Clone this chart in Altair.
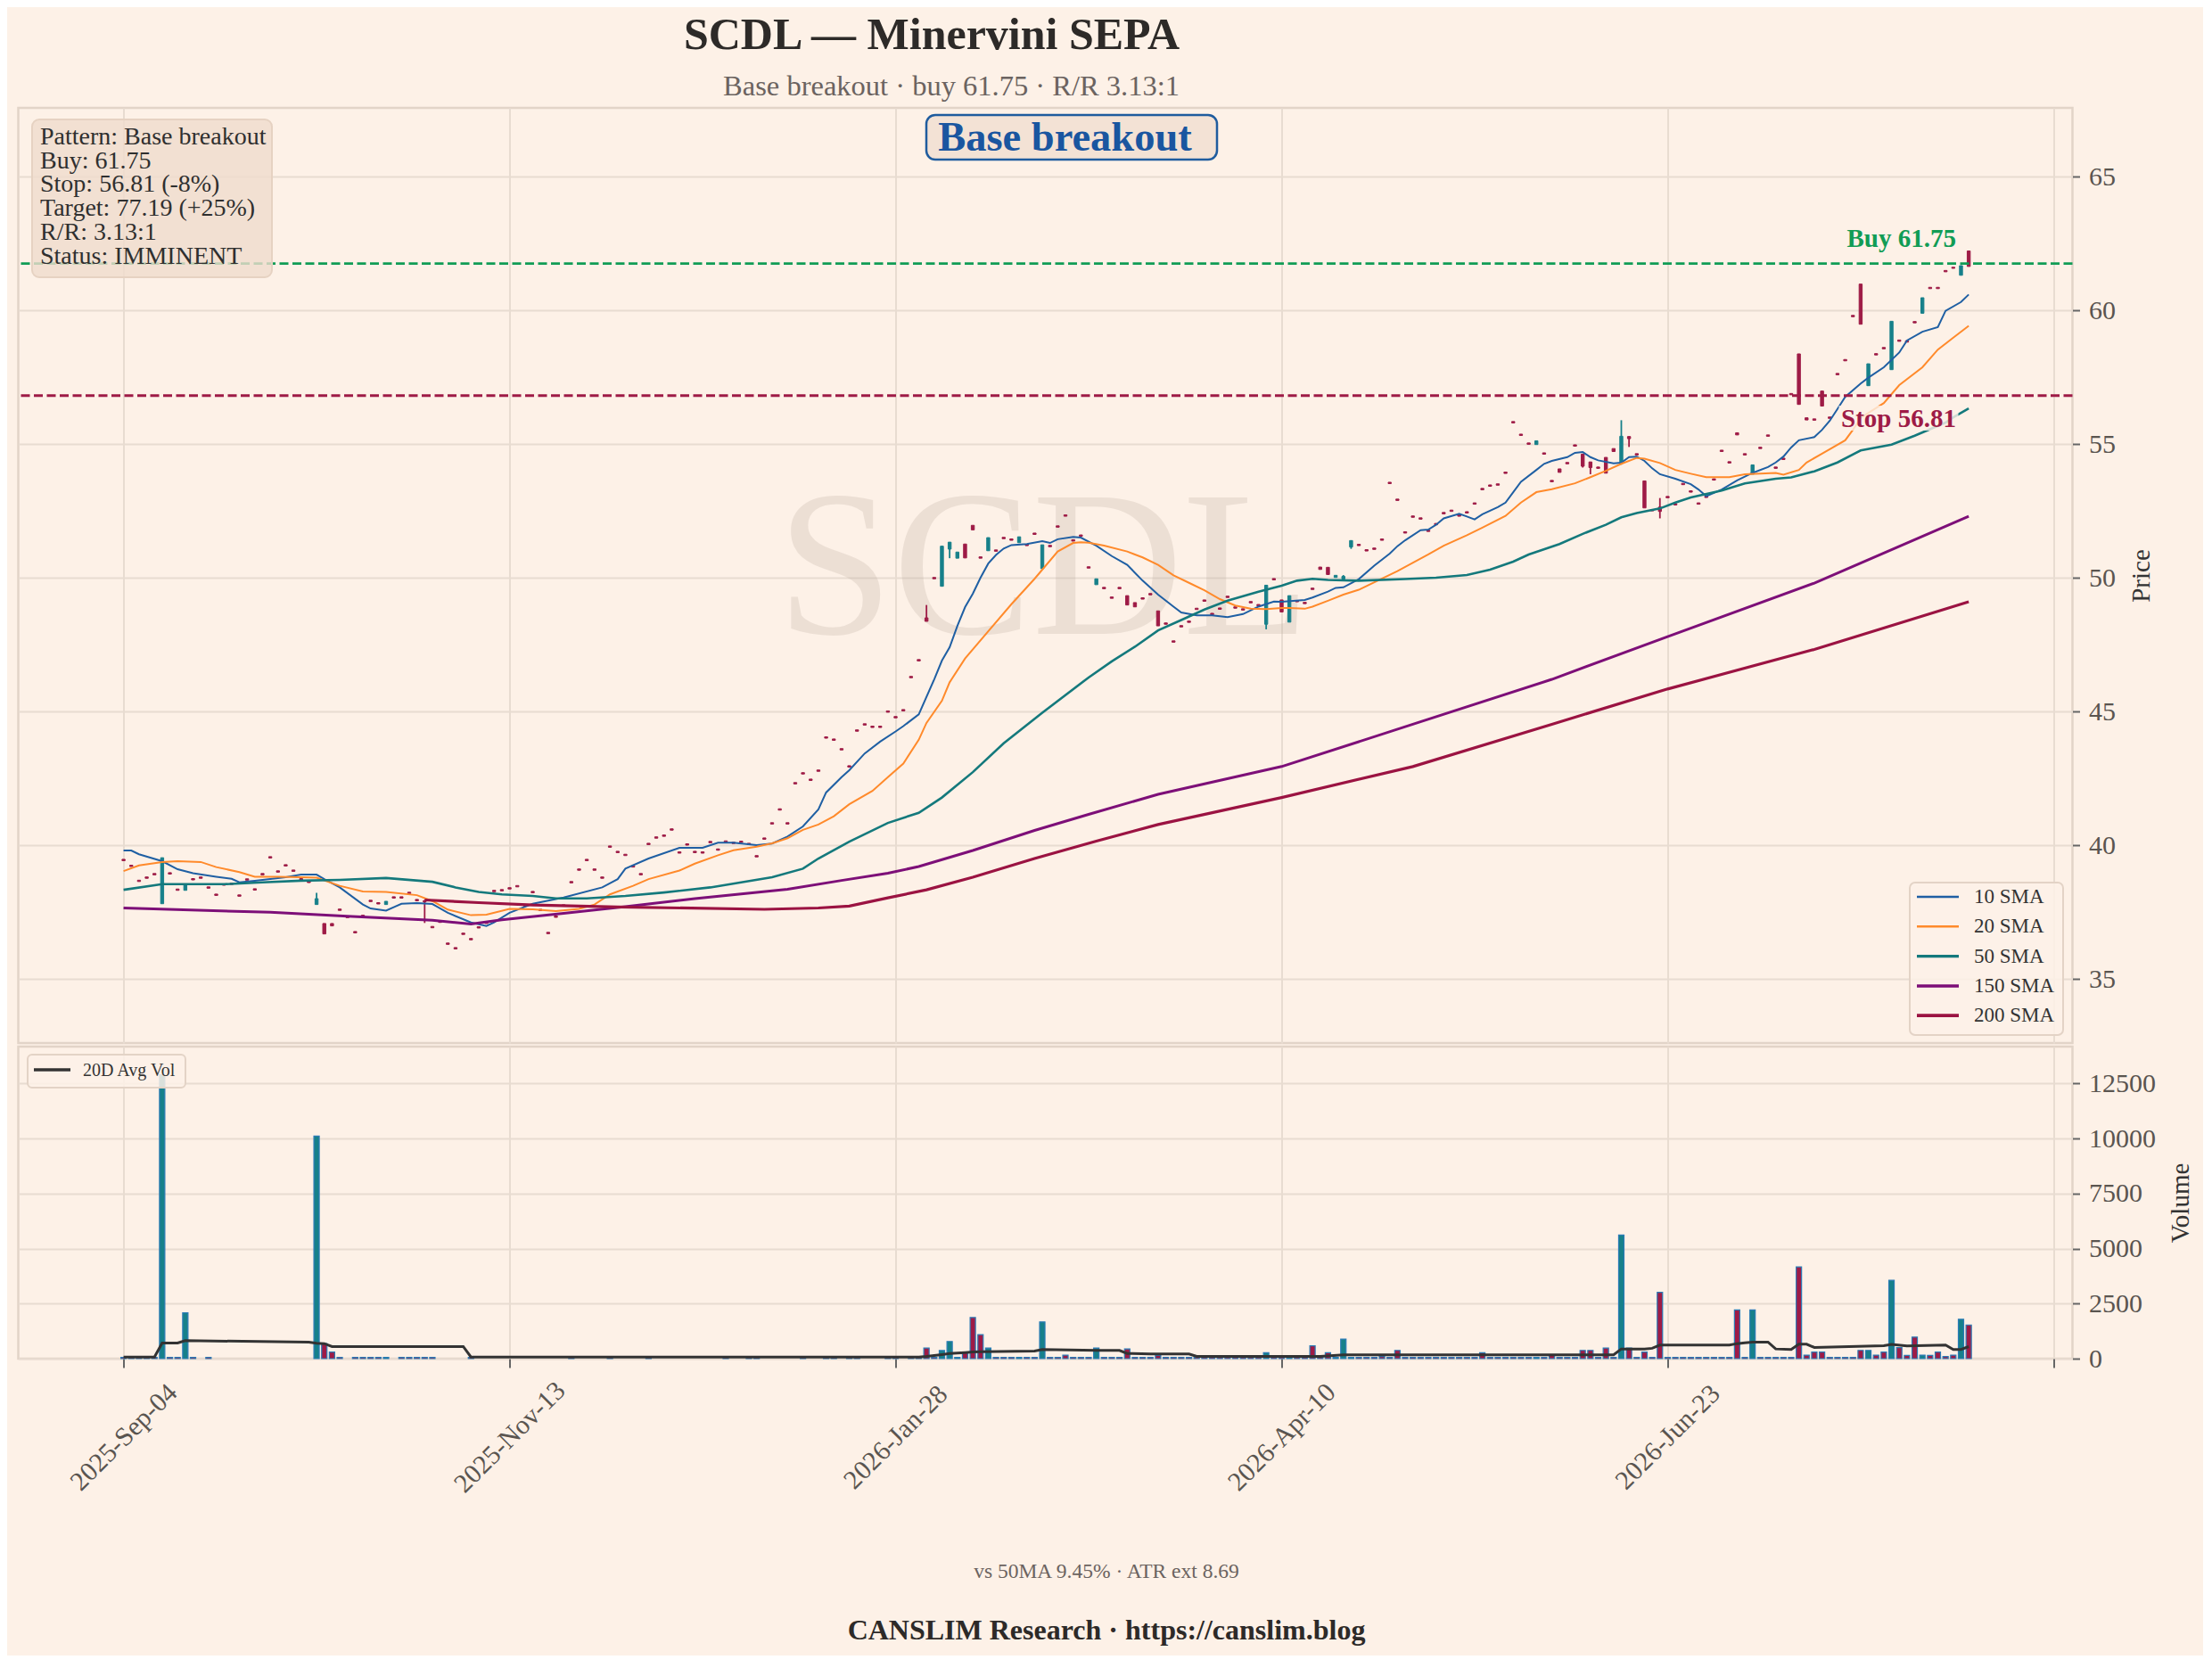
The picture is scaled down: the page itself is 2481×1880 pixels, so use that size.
import altair as alt
import pandas as pd

FONT = "Liberation Serif"
BG = "#fdf1e7"
UP = "#17808a"
DOWN = "#9e1b46"
GREEN = "#119c55"
STOPC = "#9e1b46"
GRID = "#e8dcd1"

TICKER = "SCDL"
TITLE = "SCDL — Minervini SEPA"
SUBTITLE = "Base breakout · buy 61.75 · R/R 3.13:1"
PATTERN = "Base breakout"
INFO_LINES = ["Pattern: Base breakout", "Buy: 61.75", "Stop: 56.81 (-8%)",
              "Target: 77.19 (+25%)", "R/R: 3.13:1", "Status: IMMINENT"]
FOOT1 = "vs 50MA 9.45% · ATR ext 8.69"
FOOT2 = "CANSLIM Research  ·  https://canslim.blog"
BUY = 61.75
STOP = 56.81
TICK_POS = [0, 50, 100, 150, 200, 250]
TICK_LABELS = ["2025-Sep-04", "2025-Nov-13", "2026-Jan-28", "2026-Apr-10", "2026-Jun-23", ""]
PRICE_TICKS = [35, 40, 45, 50, 55, 60, 65]
VOL_TICKS = [0, 2500, 5000, 7500, 10000, 12500]

opens = [
    39.47, 39.25, 38.69, 38.81, 38.94, 37.81, 38.97, 38.36, 38.31, 38.75,
    38.81, 38.44, 38.17, 38.55, 38.58, 38.14, 38.74, 38.37, 38.94, 39.57,
    39.04, 39.27, 39.07, 38.75, 38.65, 37.78, 37.07, 37.07, 37.61, 37.34,
    36.77, 37.38, 37.94, 37.85, 37.78, 38.07, 38.07, 38.24, 37.97, 37.92,
    36.96, 37.16, 36.34, 36.17, 36.71, 36.51, 36.95, 37.12, 38.31, 38.34,
    38.41, 38.49, 37.77, 38.27, 37.60, 36.74, 37.35, 37.77, 38.64, 39.11,
    39.47, 39.11, 38.81, 39.97, 39.77, 39.66, 39.23, 38.94, 40.07, 40.31,
    40.38, 40.61, 39.75, 40.05, 39.77, 39.75, 40.14, 39.86, 40.16, 40.11,
    40.15, 40.07, 39.61, 40.27, 40.84, 41.36, 40.84, 42.34, 42.71, 42.47,
    42.81, 44.05, 43.97, 43.61, 42.97, 44.31, 44.54, 44.45, 44.45, 45.02,
    44.81, 45.07, 46.31, 46.94, 48.50, 50.01, 49.68, 51.07, 50.73, 51.26,
    51.96, 50.78, 51.01, 51.04, 51.51, 51.45, 51.31, 51.25, 51.67, 50.34,
    51.21, 51.94, 52.35, 51.42, 51.60, 50.41, 49.74, 49.64, 49.28, 49.64,
    49.33, 49.07, 49.25, 49.41, 48.76, 48.31, 47.64, 48.21, 48.38, 48.86,
    49.17, 48.67, 48.87, 49.31, 48.91, 48.84, 49.11, 49.00, 48.26, 49.97,
    49.17, 48.34, 49.15, 49.08, 49.61, 50.40, 50.39, 50.01, 49.95, 51.15,
    51.25, 51.05, 51.11, 51.45, 53.57, 52.94, 51.72, 52.31, 52.24, 51.78,
    52.03, 52.44, 52.53, 52.35, 52.47, 52.80, 53.34, 53.47, 53.51, 53.95,
    55.84, 55.37, 55.04, 54.98, 54.67, 53.64, 54.07, 54.31, 54.97, 54.62,
    54.33, 54.14, 54.50, 54.83, 54.31, 55.28, 54.64, 53.62, 52.55, 52.64,
    53.04, 52.77, 53.53, 53.25, 52.80, 53.05, 53.70, 54.77, 54.34, 55.42,
    54.64, 53.87, 54.88, 55.34, 54.14, 54.47, 56.89, 58.37, 55.98, 55.94,
    56.98, 56.01, 57.64, 58.16, 59.81, 60.98, 57.18, 58.38, 58.61, 57.78,
    58.89, 58.86, 59.58, 59.89, 60.86, 60.86, 61.49, 61.61, 61.31, 62.22,
]
closes = [
    39.42, 39.20, 38.64, 38.76, 38.89, 39.53, 38.92, 38.31, 38.55, 38.70,
    38.76, 38.39, 38.12, 38.50, 38.53, 38.09, 38.69, 38.32, 38.89, 39.52,
    38.99, 39.22, 39.02, 38.70, 38.60, 38.00, 36.68, 36.98, 37.56, 37.29,
    36.72, 37.33, 37.89, 37.80, 37.90, 38.02, 38.02, 38.19, 37.92, 37.88,
    36.91, 37.11, 36.29, 36.12, 36.66, 36.46, 36.90, 37.07, 38.26, 38.29,
    38.36, 38.44, 37.72, 38.22, 37.55, 36.69, 37.30, 37.72, 38.59, 39.06,
    39.42, 39.06, 38.76, 39.92, 39.72, 39.61, 39.18, 38.89, 40.02, 40.26,
    40.33, 40.56, 39.70, 40.00, 39.72, 39.70, 40.09, 39.81, 40.11, 40.06,
    40.10, 40.02, 39.56, 40.22, 40.79, 41.31, 40.79, 42.29, 42.66, 42.42,
    42.76, 44.00, 43.92, 43.56, 42.92, 44.26, 44.49, 44.40, 44.40, 44.97,
    44.76, 45.02, 46.26, 46.89, 48.37, 49.96, 51.18, 51.33, 50.96, 50.74,
    51.79, 50.73, 51.50, 50.99, 51.46, 51.40, 51.53, 51.20, 51.62, 51.23,
    51.16, 51.89, 52.30, 51.37, 51.55, 50.36, 49.96, 49.59, 49.23, 49.59,
    48.98, 48.91, 49.20, 49.36, 48.20, 48.26, 47.59, 48.16, 48.33, 48.81,
    49.12, 48.62, 48.82, 49.26, 48.86, 48.79, 49.06, 48.95, 49.72, 49.92,
    48.72, 49.33, 49.10, 49.03, 49.56, 50.31, 50.12, 50.09, 50.05, 51.39,
    51.20, 51.00, 51.06, 51.40, 53.52, 52.89, 51.67, 52.26, 52.19, 51.73,
    51.98, 52.39, 52.48, 52.30, 52.42, 52.75, 53.29, 53.42, 53.46, 53.90,
    55.79, 55.32, 54.99, 55.12, 54.62, 53.59, 53.94, 54.26, 54.92, 54.17,
    54.12, 54.09, 53.91, 54.72, 55.29, 55.20, 54.59, 52.61, 52.50, 52.48,
    52.99, 52.72, 53.48, 53.20, 52.75, 53.00, 53.65, 54.72, 54.29, 55.34,
    54.59, 54.22, 54.83, 55.29, 54.09, 54.42, 56.84, 56.48, 55.90, 55.89,
    56.42, 55.96, 57.59, 58.11, 59.76, 59.48, 58.00, 58.33, 58.56, 59.59,
    58.84, 58.81, 59.53, 60.47, 60.81, 60.81, 61.44, 61.57, 61.67, 61.64,
]
wick_idx = [25, 39, 104, 107, 148, 158, 159, 189, 190, 194, 195, 199]
wick_hi = [38.22, 37.95, 48.98, 51.33, 49.72, 50.10, 51.39, 54.62, 54.33, 55.89, 55.28, 52.98]
wick_lo = [37.78, 37.09, 48.37, 50.73, 48.07, 49.90, 51.08, 54.12, 53.87, 54.23, 54.89, 52.22]

volumes = [
    60, 60, 60, 60, 60, 12900, 60, 60, 2080, 60,
    0, 60, 0, 0, 0, 0, 0, 0, 0, 0,
    0, 0, 0, 0, 0, 10110, 680, 300, 60, 0,
    60, 60, 60, 60, 60, 0, 60, 60, 60, 60,
    60, 0, 0, 0, 0, 60, 0, 0, 0, 0,
    0, 0, 0, 0, 0, 0, 0, 0, 60, 0,
    0, 0, 0, 60, 0, 0, 0, 0, 60, 0,
    0, 0, 0, 0, 0, 0, 0, 0, 60, 0,
    0, 60, 60, 0, 0, 0, 0, 0, 60, 0,
    0, 60, 60, 0, 60, 60, 0, 0, 0, 60,
    60, 0, 60, 60, 480, 60, 370, 780, 60, 300,
    1870, 1090, 480, 60, 60, 60, 60, 60, 60, 1670,
    60, 60, 160, 60, 60, 60, 480, 60, 60, 60,
    440, 60, 60, 60, 150, 60, 60, 60, 60, 60,
    60, 60, 60, 60, 60, 60, 60, 60, 270, 60,
    60, 60, 60, 60, 580, 60, 270, 60, 890, 60,
    60, 60, 60, 100, 60, 375, 60, 60, 60, 60,
    60, 60, 60, 60, 60, 60, 270, 60, 60, 60,
    60, 60, 60, 60, 60, 160, 60, 60, 60, 375,
    375, 60, 480, 60, 5620, 480, 60, 300, 60, 3010,
    60, 60, 60, 60, 60, 60, 60, 60, 60, 2210,
    60, 2210, 60, 60, 60, 60, 60, 4170, 160, 300,
    300, 60, 60, 60, 60, 375, 375, 160, 300, 3560,
    500, 150, 980, 160, 150, 300, 100, 160, 1790, 1530,
]
avg_idx = [0, 4, 5, 7, 8, 24, 25, 26, 27, 44,
           45, 103, 104, 106, 107, 109, 110, 111, 118, 119,
           126, 129, 130, 133, 138, 139, 155, 158, 193, 194,
           197, 198, 199, 208, 209, 210, 211, 213, 214, 216,
           217, 218, 219, 228, 229, 231, 236, 237, 238, 239]
avg_val = [75, 75, 710, 710, 818, 751, 700, 683, 548, 548,
           75, 75, 102, 183, 230, 277, 300, 318, 345, 413,
           372, 372, 237, 210, 210, 102, 102, 170, 170, 440,
           440, 470, 616, 616, 683, 720, 751, 751, 440, 413,
           656, 656, 507, 590, 643, 575, 616, 413, 420, 548]

sma10_idx = [0, 1, 2, 5, 7, 9, 12, 14, 15, 17, 21, 23, 25, 26, 28, 31, 32, 34, 36, 38,
             40, 42, 45, 47, 48, 50, 53, 57, 62, 64, 65, 68, 72, 75, 77, 79, 82, 84, 86, 88,
             90, 91, 93, 94, 96, 98, 100, 101, 103, 105, 106, 107, 108, 109, 110, 111, 112, 113, 114, 115,
             117, 119, 120, 121, 123, 124, 126, 128, 130, 132, 134, 136, 137, 139, 141, 143, 145, 147, 149, 150,
             153, 154, 156, 157, 158, 160, 162, 164, 165, 166, 168, 169, 170, 171, 173, 174, 175, 176, 178, 179,
             180, 181, 183, 184, 185, 187, 188, 189, 190, 191, 193, 194, 195, 196, 197, 198, 199, 201, 203, 204,
             205, 207, 209, 211, 213, 214, 215, 216, 217, 219, 220, 221, 222, 223, 225, 226, 228, 230, 231, 233,
             235, 236, 238, 239]
sma10_val = [39.80, 39.80, 39.66, 39.40, 39.10, 38.95, 38.82, 38.74, 38.61, 38.67, 38.80, 38.90, 38.90, 38.73, 38.42, 37.78, 37.63, 37.55, 37.81, 37.83,
             37.80, 37.47, 37.11, 36.98, 37.11, 37.47, 37.81, 38.04, 38.42, 38.73, 39.12, 39.50, 39.90, 39.90, 40.09, 40.09, 40.00, 40.06, 40.32, 40.70,
             41.34, 41.97, 42.54, 42.80, 43.43, 43.87, 44.25, 44.45, 44.89, 46.20, 46.90, 47.40, 48.20, 48.90, 49.40, 50.00, 50.53, 50.85, 51.09, 51.22,
             51.26, 51.37, 51.30, 51.44, 51.53, 51.50, 51.20, 50.81, 50.48, 49.89, 49.37, 48.92, 48.70, 48.59, 48.59, 48.53, 48.64, 48.92, 49.11, 49.10,
             49.17, 49.26, 49.48, 49.62, 49.64, 49.95, 50.45, 50.90, 51.18, 51.40, 51.78, 51.80, 51.98, 52.22, 52.39, 52.29, 52.18, 52.37, 52.64, 52.81,
             53.20, 53.59, 54.03, 54.26, 54.37, 54.51, 54.67, 54.70, 54.51, 54.39, 54.28, 54.30, 54.51, 54.53, 54.37, 54.09, 53.87, 53.70, 53.50, 53.30,
             53.05, 53.30, 53.64, 53.92, 54.14, 54.31, 54.53, 54.87, 55.14, 55.26, 55.53, 55.87, 56.31, 56.76, 57.26, 57.48, 57.87, 58.42, 58.87, 59.20,
             59.37, 59.98, 60.31, 60.59]
sma20_idx = [0, 2, 5, 7, 10, 12, 15, 17, 20, 23, 25, 28, 31, 34, 38, 40, 42, 45, 47, 50,
             53, 56, 59, 61, 63, 66, 68, 72, 74, 77, 79, 82, 84, 86, 88, 90, 92, 94, 97, 99,
             101, 103, 104, 106, 107, 109, 112, 115, 118, 121, 123, 124, 125, 127, 130, 132, 134, 136, 138, 140,
             142, 144, 146, 148, 150, 151, 153, 154, 156, 158, 160, 165, 169, 171, 174, 176, 179, 181, 183, 185,
             188, 190, 192, 194, 196, 197, 199, 201, 203, 205, 208, 210, 214, 215, 217, 218, 220, 223, 224, 225,
             228, 230, 233, 235, 237, 239]
sma20_val = [39.03, 39.24, 39.37, 39.40, 39.37, 39.18, 38.99, 38.82, 38.82, 38.80, 38.78, 38.48, 38.27, 38.25, 38.13, 37.91, 37.59, 37.38, 37.40, 37.62,
             37.60, 37.53, 37.62, 37.78, 38.16, 38.48, 38.73, 39.05, 39.31, 39.62, 39.81, 39.94, 40.07, 40.26, 40.57, 40.77, 41.08, 41.53, 42.03, 42.54,
             43.05, 43.94, 44.57, 45.40, 46.09, 46.98, 48.00, 49.01, 49.96, 50.98, 51.30, 51.33, 51.31, 51.20, 50.98, 50.76, 50.48, 50.09, 49.81, 49.53,
             49.20, 48.96, 48.84, 48.83, 48.87, 48.87, 48.84, 48.92, 49.14, 49.37, 49.55, 50.25, 50.87, 51.20, 51.59, 51.87, 52.31, 52.81, 53.20, 53.31,
             53.53, 53.76, 54.00, 54.26, 54.48, 54.45, 54.29, 54.03, 53.89, 53.76, 53.76, 53.87, 53.92, 53.85, 54.03, 54.31, 54.64, 55.14, 55.53, 55.98,
             56.53, 57.20, 57.87, 58.53, 58.98, 59.42]
sma50_idx = [0, 5, 10, 13, 18, 23, 28, 34, 40, 43, 46, 49, 53, 56, 60, 65, 70, 76, 80, 84,
             88, 90, 94, 99, 103, 106, 110, 114, 119, 125, 128, 131, 134, 137, 140, 143, 147, 150, 152, 154,
             156, 160, 166, 170, 174, 177, 180, 182, 186, 189, 192, 194, 196, 199, 201, 203, 207, 210, 214, 216,
             219, 222, 225, 229, 232, 236, 237, 239]
sma50_val = [38.33, 38.54, 38.54, 38.54, 38.61, 38.67, 38.70, 38.77, 38.63, 38.42, 38.25, 38.16, 38.10, 38.01, 38.01, 38.10, 38.23, 38.42, 38.61, 38.80,
             39.12, 39.50, 40.13, 40.83, 41.21, 41.78, 42.73, 43.81, 44.95, 46.27, 46.87, 47.42, 48.03, 48.42, 48.81, 49.14, 49.48, 49.70, 49.89, 49.96,
             49.92, 49.89, 49.95, 50.00, 50.10, 50.30, 50.60, 50.87, 51.26, 51.64, 51.98, 52.26, 52.42, 52.59, 52.81, 53.00, 53.26, 53.53, 53.70, 53.75,
             53.98, 54.31, 54.76, 54.98, 55.31, 55.80, 56.00, 56.33]
sma150_idx = [0, 19, 29, 40, 45, 49, 57, 65, 74, 86, 93, 99, 103, 110, 118, 125, 134, 150, 167, 185, 200, 219, 239]
sma150_val = [37.65, 37.49, 37.34, 37.19, 37.05, 37.21, 37.45, 37.70, 38.00, 38.35, 38.68, 38.95, 39.20, 39.80, 40.55, 41.15, 41.90, 42.94, 44.52, 46.20, 47.80, 49.80, 52.30]
sma200_idx = [39, 46, 53, 64, 83, 90, 94, 99, 104, 110, 118, 126, 134, 150, 167, 185, 200, 219, 239]
sma200_val = [37.95, 37.85, 37.76, 37.69, 37.60, 37.65, 37.72, 38.03, 38.33, 38.80, 39.50, 40.15, 40.77, 41.78, 42.94, 44.52, 45.84, 47.32, 49.10]

SMA = {
    "10 SMA": (sma10_idx, sma10_val),
    "20 SMA": (sma20_idx, sma20_val),
    "50 SMA": (sma50_idx, sma50_val),
    "150 SMA": (sma150_idx, sma150_val),
    "200 SMA": (sma200_idx, sma200_val),
}
SMA_STYLE = {
    "10 SMA": ("#1f5fa3", 2.0),
    "20 SMA": ("#ff8a2b", 2.0),
    "50 SMA": ("#14797c", 2.6),
    "150 SMA": ("#7d0f78", 3.0),
    "200 SMA": ("#9b1342", 3.2),
}

# ---------------- layout constants ----------------
W = 2304
H_HEAD = 111
H_PRICE = 1049
H_VOL = 350

N = len(closes)
cdf = pd.DataFrame({"idx": list(range(N)), "open": opens, "close": closes})
cdf["col"] = [UP if c >= o else DOWN for o, c in zip(opens, closes)]
wdf = pd.DataFrame({"idx": wick_idx, "hi": wick_hi, "lo": wick_lo})
wdf["col"] = [cdf["col"][i] for i in wick_idx]
vdf = pd.DataFrame({"idx": list(range(N)), "vol": volumes, "col": cdf["col"]})
adf = pd.DataFrame({"idx": avg_idx, "val": avg_val})
one = pd.DataFrame({"a": [0]})

xs = alt.Scale(domain=[-13.06, 251.86], nice=False, zero=False)
ps = alt.Scale(domain=[32.6, 67.57], nice=False, zero=False)
vs = alt.Scale(domain=[0, 14180], nice=False, zero=False)

expr = "''"
for v, t in zip(reversed(TICK_POS), reversed(TICK_LABELS)):
    expr = f"datum.value == {v} ? '{t}' : ({expr})"

px_axis = alt.Axis(values=TICK_POS, labels=False, ticks=False, domain=False, title=None, grid=True)
py_axis = alt.Axis(orient="right", values=PRICE_TICKS, title="Price", titleX=77, titleY=H_PRICE / 2,
                   titleAngle=270, titleAlign="center", titleBaseline="middle",
                   tickSize=8, labelPadding=10, grid=True, domain=False)
vx_axis = alt.Axis(values=TICK_POS, labelExpr=expr, labelAngle=315, labelAlign="center",
                   labelBaseline="middle", labelPadding=78, tickSize=10, grid=True, title=None,
                   labelFlush=False, labelOverlap=False, domain=False)
vy_axis = alt.Axis(orient="right", values=VOL_TICKS, format="d", title="Volume", titleX=121,
                   titleY=H_VOL / 2, titleAngle=270, titleAlign="center", titleBaseline="middle",
                   tickSize=8, labelPadding=10, grid=True, domain=False)

xe = alt.X("idx:Q", scale=xs, axis=px_axis)


def ptxt(text, x, y, size, color, weight="normal", align="left", baseline="alphabetic", opacity=1.0):
    return alt.Chart(one).mark_text(
        text=text, font=FONT, fontSize=size, fontWeight=weight, color=color,
        align=align, baseline=baseline, opacity=opacity
    ).encode(x=alt.value(x), y=alt.value(y))


def prect(x1, x2, y1, y2, **kw):
    return alt.Chart(one).mark_rect(**kw).encode(
        x=alt.value(x1), x2=alt.value(x2), y=alt.value(y1), y2=alt.value(y2))


# ---------------- header ----------------
header = alt.layer(
    ptxt(TITLE, 1024.5, 47, 50, "#2d2a28", weight="bold", align="center"),
    ptxt(SUBTITLE, 1046.5, 99, 32.5, "#6b6360", align="center"),
).properties(width=W, height=H_HEAD, view=alt.ViewBackground(strokeOpacity=0))

# ---------------- price panel ----------------
watermark = ptxt(TICKER, 1150, 590, 234, "#b4a396", align="center", opacity=0.22)

wicks = alt.Chart(wdf).mark_rule(strokeWidth=1.8).encode(
    x=xe, y=alt.Y("hi:Q", scale=ps, axis=py_axis), y2="lo:Q",
    color=alt.Color("col:N", scale=None))
bodies = alt.Chart(cdf).mark_bar(size=3.4, strokeWidth=1).encode(
    x=xe, y=alt.Y("open:Q", scale=ps, axis=py_axis), y2="close:Q",
    color=alt.Color("col:N", scale=None), stroke=alt.Stroke("col:N", scale=None))

sma_layers = []
for name, (ix, vals) in SMA.items():
    color, w = SMA_STYLE[name]
    d = pd.DataFrame({"idx": ix, "val": vals})
    sma_layers.append(alt.Chart(d).mark_line(color=color, strokeWidth=w).encode(
        x=xe, y=alt.Y("val:Q", scale=ps, axis=py_axis)))

lv = pd.DataFrame({"y": [BUY, STOP], "col": [GREEN, STOPC]})
levels = alt.Chart(lv).mark_rule(strokeWidth=2.8, strokeDash=[10, 4.5]).encode(
    y=alt.Y("y:Q", scale=ps, axis=py_axis), color=alt.Color("col:N", scale=None))

stop_bg = prect(2042, 2176, 334, 362, fill=BG, opacity=0.8)
buy_lbl = alt.Chart(pd.DataFrame({"y": [BUY], "t": [f"Buy {BUY:.2f}"]})).mark_text(
    font=FONT, fontSize=29, fontWeight="bold", color=GREEN, align="right", baseline="alphabetic", dy=-18.5
).encode(x=alt.value(2173.5), y=alt.Y("y:Q", scale=ps, axis=py_axis), text="t:N")
stop_lbl = alt.Chart(pd.DataFrame({"y": [STOP], "t": [f"Stop {STOP:.2f}"]})).mark_text(
    font=FONT, fontSize=29, fontWeight="bold", color=STOPC, align="right", baseline="alphabetic", dy=35
).encode(x=alt.value(2173.5), y=alt.Y("y:Q", scale=ps, axis=py_axis), text="t:N")

info_box = prect(15.5, 284.5, 13, 190, fill="#efdccd", fillOpacity=0.8, stroke="#e6d2c2",
                 strokeWidth=2, cornerRadius=8)
info_txt = [ptxt(line, 24.5, 41 + 26.7 * k, 28, "#2f2f2f") for k, line in enumerate(INFO_LINES)]

pat_box = prect(1018.5, 1344.5, 8, 58, fill="#f3e2d5", stroke="#1f5c9e", strokeWidth=2.5, cornerRadius=10)
pat_txt = ptxt(PATTERN, 1174, 34, 46.5, "#1a56a0", weight="bold", align="center", baseline="middle")

leg_box = prect(2121.5, 2293.5, 869, 1040, fill=BG, fillOpacity=0.85, stroke="#e3d3c6",
                strokeWidth=2, cornerRadius=6)
leg_items = []
for k, name in enumerate(SMA):
    color, w = SMA_STYLE[name]
    yy = 885 + 33.3 * k
    leg_items.append(alt.Chart(one).mark_rule(color=color, strokeWidth=w + 0.5).encode(
        x=alt.value(2129.5), x2=alt.value(2176.5), y=alt.value(yy)))
    leg_items.append(ptxt(name, 2193.5, yy, 23, "#333333", baseline="middle"))

price = alt.layer(
    watermark, wicks, bodies, *sma_layers, levels, stop_bg, buy_lbl, stop_lbl,
    info_box, *info_txt, pat_box, pat_txt, leg_box, *leg_items
).properties(width=W, height=H_PRICE)

# ---------------- volume panel ----------------
vxe = alt.X("idx:Q", scale=xs, axis=vx_axis)
bars = alt.Chart(vdf).transform_filter("datum.vol > 0").mark_bar(
    size=6, stroke="#2a7bb6", strokeWidth=1.2).encode(
    x=vxe, y=alt.Y("vol:Q", scale=vs, axis=vy_axis), color=alt.Color("col:N", scale=None))
avg_line = alt.Chart(adf).mark_line(color="#333333", strokeWidth=3).encode(
    x=vxe, y=alt.Y("val:Q", scale=vs, axis=vy_axis))
vleg_box = prect(10.5, 187.5, 9, 46, fill=BG, fillOpacity=0.85, stroke="#e3d3c6",
                 strokeWidth=2, cornerRadius=5)
vleg_line = alt.Chart(one).mark_rule(color="#333333", strokeWidth=3.5).encode(
    x=alt.value(17.5), x2=alt.value(58.5), y=alt.value(26))
vleg_txt = ptxt("20D Avg Vol", 72.5, 27, 20, "#333333", baseline="middle")
foot1 = ptxt(FOOT1, 1220.5, 596, 23.5, "#6b6360", align="center")
foot2 = ptxt(FOOT2, 1220.5, 665, 32, "#2d2a28", weight="bold", align="center")

volume = alt.layer(
    bars, avg_line, vleg_box, vleg_line, vleg_txt, foot1, foot2
).properties(width=W, height=H_VOL)

chart = alt.vconcat(header, price, volume, spacing=0).properties(
    padding={"left": 9.5, "top": 0, "right": 8, "bottom": 10},
    background=BG,
).configure_view(
    stroke="#e2d4c8", strokeWidth=2.5
).configure_axis(
    labelFont=FONT, labelFontSize=30, labelColor="#5a5550",
    titleFont=FONT, titleFontSize=29, titleFontWeight="normal", titleColor="#333333",
    gridColor=GRID, gridWidth=2, tickColor="#666666", tickWidth=2,
)

chart.save("out.html", embed_options={"renderer": "svg", "actions": False})
